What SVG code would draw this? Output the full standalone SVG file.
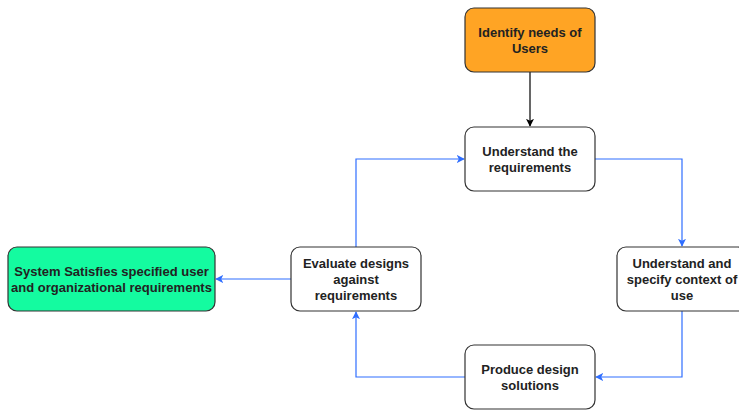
<svg xmlns="http://www.w3.org/2000/svg" width="739" height="410" viewBox="0 0 739 410">
<style>
.n{stroke:#333;stroke-width:1.2}
.t{font-family:"Liberation Sans",Arial,sans-serif;font-size:13px;font-weight:bold;fill:#222;text-anchor:middle}
.b{fill:none;stroke:#2F6EFF;stroke-width:1.2}
.k{fill:none;stroke:#000;stroke-width:1.2}
</style>
<defs>
<marker id="ab" viewBox="0 0 10 10" refX="9" refY="5" markerWidth="8" markerHeight="8" orient="auto" markerUnits="userSpaceOnUse"><path d="M0,0 L10,5 L0,10 L2.5,5 Z" fill="#2F6EFF"/></marker>
<marker id="ak" viewBox="0 0 10 10" refX="9" refY="5" markerWidth="8" markerHeight="8" orient="auto" markerUnits="userSpaceOnUse"><path d="M0,0 L10,5 L0,10 L2.5,5 Z" fill="#000"/></marker>
</defs>
<rect width="739" height="410" fill="#fff"/>
<g id="connectors">
<path class="k" d="M530,72 V126" marker-end="url(#ak)"/>
<path class="b" d="M595,159 H682 V246" marker-end="url(#ab)"/>
<path class="b" d="M682,311 V377 H596" marker-end="url(#ab)"/>
<path class="b" d="M465,377 H356 V312" marker-end="url(#ab)"/>
<path class="b" d="M356,247 V159 H464" marker-end="url(#ab)"/>
<path class="b" d="M291,279 H216" marker-end="url(#ab)"/>
</g>
<g id="identify">
<rect class="n" x="465" y="8" width="130" height="64" rx="9" fill="#FFA424"/>
<text class="t" x="530" y="36.5">Identify needs of</text>
<text class="t" x="530" y="52.5">Users</text>
</g>
<g id="understand">
<rect class="n" x="465" y="127" width="130" height="64" rx="9" fill="#fff"/>
<text class="t" x="530" y="155.5">Understand the</text>
<text class="t" x="530" y="171.5">requirements</text>
</g>
<g id="context">
<rect class="n" x="617" y="247" width="130" height="64" rx="9" fill="#fff"/>
<text class="t" x="682" y="268">Understand and</text>
<text class="t" x="682" y="284">specify context of</text>
<text class="t" x="682" y="300">use</text>
</g>
<g id="produce">
<rect class="n" x="465" y="345" width="130" height="64" rx="9" fill="#fff"/>
<text class="t" x="530" y="373.5">Produce design</text>
<text class="t" x="530" y="389.5">solutions</text>
</g>
<g id="evaluate">
<rect class="n" x="291" y="247" width="130" height="64" rx="9" fill="#fff"/>
<text class="t" x="356" y="268">Evaluate designs</text>
<text class="t" x="356" y="284">against</text>
<text class="t" x="356" y="300">requirements</text>
</g>
<g id="system">
<rect class="n" x="8" y="247" width="207" height="64" rx="9" fill="#14FBA0"/>
<text class="t" x="111.5" y="275.5">System Satisfies specified user</text>
<text class="t" x="111.5" y="291.5">and organizational requirements</text>
</g>
</svg>
